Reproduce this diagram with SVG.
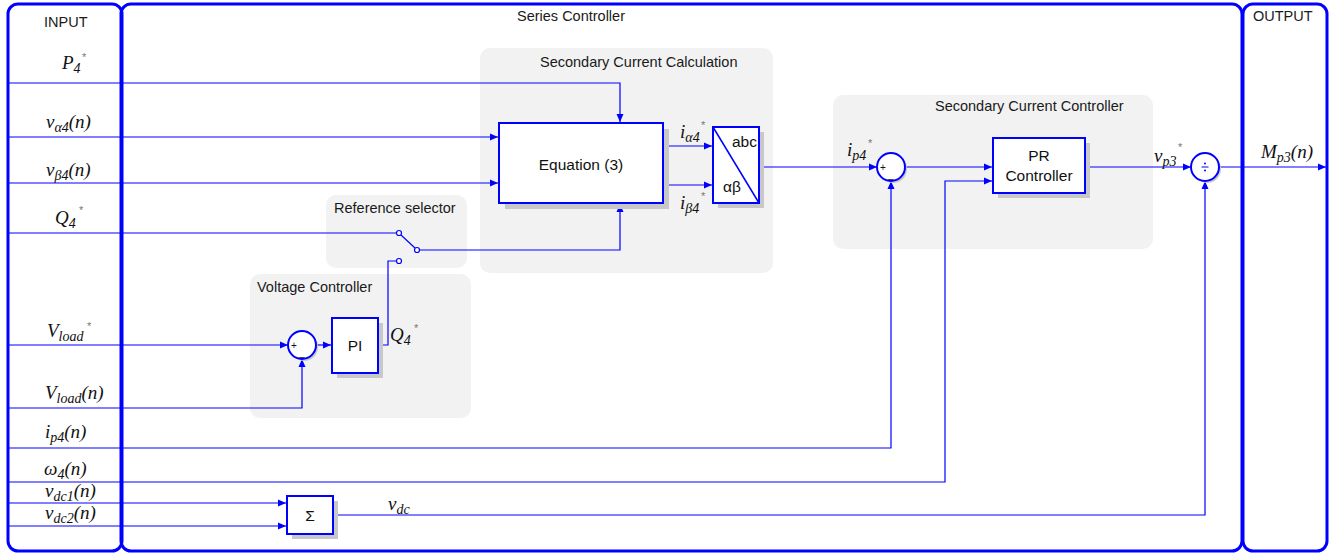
<svg xmlns="http://www.w3.org/2000/svg" width="1337" height="554" viewBox="0 0 1337 554">
<defs>
<marker id="ar" markerUnits="userSpaceOnUse" markerWidth="9" markerHeight="8" refX="8" refY="4" orient="auto"><path d="M0,0.5 L8,4 L0,7.5 z" fill="#0000ff"/></marker>
<style>
.frame{fill:none;stroke:#0000ff;stroke-width:3}
.grp{fill:#f2f2f2;stroke:none}
.blk{fill:#ffffff;stroke:#0000ff;stroke-width:2}
.shd{fill:#c8c8c8;stroke:none}
.ln{fill:none;stroke:#0000ff;stroke-width:1.2}
.arr{fill:none;stroke:#0000ff;stroke-width:1.2;marker-end:url(#ar)}
.lbl{font-family:"Liberation Sans",Arial,sans-serif;font-size:14.5px;fill:#1a1a1a}
.btx{font-family:"Liberation Sans",Arial,sans-serif;font-size:15.5px;fill:#111}
.m{font-family:"Liberation Serif","Times New Roman",serif;font-style:italic;font-size:19px;fill:#111}
.s{font-size:14px}
.st{font-family:"Liberation Sans",Arial,sans-serif;font-size:11px;fill:#777}
.sg{font-family:"Liberation Sans",Arial,sans-serif;font-size:10px;fill:#111}
.pin{fill:#fff;stroke:#0000ff;stroke-width:1.2}
</style>
</defs>

<!-- frames -->
<g id="frames">
<rect class="frame" x="8" y="4" width="114" height="547" rx="10"/>
<rect class="frame" x="121" y="4" width="1121" height="547" rx="10"/>
<rect class="frame" x="1243" y="4" width="84" height="547" rx="10"/>
<text class="lbl" x="44" y="27">INPUT</text>
<text class="lbl" x="517" y="21">Series Controller</text>
<text class="lbl" x="1253" y="21">OUTPUT</text>
</g>

<!-- group backgrounds -->
<g id="group-scc">
<rect class="grp" x="480" y="48" width="293" height="225" rx="10"/>
<text class="lbl" x="540" y="67">Secondary Current Calculation</text>
</g>
<g id="group-refsel">
<rect class="grp" x="326" y="195" width="141" height="73" rx="10"/>
<text class="lbl" x="334" y="213">Reference selector</text>
</g>
<g id="group-vc">
<rect class="grp" x="250" y="274" width="221" height="144" rx="10"/>
<text class="lbl" x="257" y="292">Voltage Controller</text>
</g>
<g id="group-sccon">
<rect class="grp" x="833" y="95" width="320" height="154" rx="10"/>
<text class="lbl" x="935" y="111">Secondary Current Controller</text>
</g>

<!-- input labels -->
<g id="inputs">
<text class="m" x="62" y="69">P<tspan class="s" dy="4">4</tspan></text><text class="st" x="82" y="61">*</text>
<text class="m" x="46" y="128">v<tspan class="s" dy="4">α4</tspan><tspan dy="-4">(n)</tspan></text>
<text class="m" x="46" y="176">v<tspan class="s" dy="4">β4</tspan><tspan dy="-4">(n)</tspan></text>
<text class="m" x="55" y="224">Q<tspan class="s" dy="4">4</tspan></text><text class="st" x="79" y="214">*</text>
<text class="m" x="47" y="337">V<tspan class="s" dy="4">load</tspan></text><text class="st" x="87" y="330">*</text>
<text class="m" x="45" y="399">V<tspan class="s" dy="4">load</tspan><tspan dy="-4">(n)</tspan></text>
<text class="m" x="45" y="438">i<tspan class="s" dy="4">p4</tspan><tspan dy="-4">(n)</tspan></text>
<text class="m" x="44" y="475">ω<tspan class="s" dy="4">4</tspan><tspan dy="-4">(n)</tspan></text>
<text class="m" x="45" y="497">v<tspan class="s" dy="4">dc1</tspan><tspan dy="-4">(n)</tspan></text>
<text class="m" x="45" y="519">v<tspan class="s" dy="4">dc2</tspan><tspan dy="-4">(n)</tspan></text>
</g>

<!-- connectors -->
<g id="connectors">
<polyline class="arr" points="8,83 620,83 620,122"/>
<polyline class="arr" points="8,137 498,137"/>
<polyline class="arr" points="8,183 498,183"/>
<polyline class="ln" points="8,233 396.5,233"/>
<line class="ln" x1="401" y1="235" x2="415" y2="248"/>
<polyline class="arr" points="419.5,250 620,250 620,204"/>
<polyline class="arr" points="8,345 288,345"/>
<polyline class="arr" points="8,408 302,408 302,359"/>
<polyline class="arr" points="316,345 331,345"/>
<polyline class="ln" points="379,345 388,345 388,261 396.5,261"/>
<polyline class="arr" points="664,146 712,146"/>
<polyline class="arr" points="664,185 712,185"/>
<polyline class="arr" points="760,167 877,167"/>
<polyline class="arr" points="8,448 891,448 891,181"/>
<polyline class="arr" points="905,167 992,167"/>
<polyline class="arr" points="8,482 945,482 945,181 992,181"/>
<polyline class="arr" points="1086,167 1191,167"/>
<polyline class="arr" points="8,503 286,503"/>
<polyline class="arr" points="8,526 286,526"/>
<polyline class="arr" points="334,515 1205,515 1205,181"/>
<polyline class="arr" points="1219,167 1326,167"/>
</g>

<!-- nodes -->
<g id="equation3">
<rect class="shd" x="505" y="129" width="164" height="80"/>
<rect class="blk" x="499" y="123" width="164" height="80"/>
<text class="btx" x="581" y="170" text-anchor="middle" font-size="16">Equation (3)</text>
</g>
<g id="abc-transform">
<rect class="shd" x="718" y="132" width="46" height="76"/>
<rect class="blk" x="713" y="127" width="46" height="76"/>
<line x1="713" y1="127" x2="759" y2="203" stroke="#0000ff" stroke-width="1.5"/>
<text class="btx" x="757" y="147" text-anchor="end" font-size="16">abc</text>
<text class="btx" x="723" y="192" font-size="16">αβ</text>
</g>
<text class="m" x="680" y="138">i<tspan class="s" dy="4">α4</tspan></text><text class="st" x="701" y="129">*</text>
<text class="m" x="680" y="209">i<tspan class="s" dy="4">β4</tspan></text><text class="st" x="701" y="200">*</text>

<g id="ref-selector">
<circle class="pin" cx="399" cy="233" r="2.5"/>
<circle class="pin" cx="417" cy="250" r="2.5"/>
<circle class="pin" cx="399" cy="261" r="2.5"/>
</g>

<g id="sum-vc">
<circle cx="304" cy="347" r="14" fill="#c8c8c8"/>
<circle cx="302" cy="345" r="14" fill="#fff" stroke="#0000ff" stroke-width="2"/>
<text class="sg" x="291" y="349">+</text>
<text class="sg" x="299" y="356">_</text>
</g>
<g id="pi">
<rect class="shd" x="337" y="323" width="46" height="55"/>
<rect class="blk" x="332" y="318" width="46" height="55"/>
<text class="btx" x="355" y="351" text-anchor="middle">PI</text>
</g>
<text class="m" x="390" y="341">Q<tspan class="s" dy="4">4</tspan></text><text class="st" x="414" y="332">*</text>

<g id="sum-scc">
<circle cx="893" cy="169" r="14" fill="#c8c8c8"/>
<circle cx="891" cy="167" r="14" fill="#fff" stroke="#0000ff" stroke-width="2"/>
<text class="sg" x="880" y="171">+</text>
<text class="sg" x="888" y="178">_</text>
</g>
<text class="m" x="847" y="156">i<tspan class="s" dy="4">p4</tspan></text><text class="st" x="868" y="147">*</text>

<g id="pr-controller">
<rect class="shd" x="998" y="143" width="92" height="55"/>
<rect class="blk" x="993" y="138" width="92" height="55"/>
<text class="btx" x="1039" y="161" text-anchor="middle" font-size="15">PR</text>
<text class="btx" x="1039" y="181" text-anchor="middle" font-size="15">Controller</text>
</g>
<text class="m" x="1154" y="162">v<tspan class="s" dy="4">p3</tspan></text><text class="st" x="1178" y="151">*</text>

<g id="divide">
<circle cx="1207" cy="169" r="14" fill="#c8c8c8"/>
<circle cx="1205" cy="167" r="14" fill="#fff" stroke="#0000ff" stroke-width="2"/>
<line x1="1201.5" y1="167" x2="1208.5" y2="167" stroke="#0000ff" stroke-width="1"/>
<circle cx="1205" cy="163.5" r="1" fill="#0000ff"/>
<circle cx="1205" cy="170.5" r="1" fill="#0000ff"/>
</g>
<text class="m" x="1261" y="158">M<tspan class="s" dy="4">p3</tspan><tspan dy="-4">(n)</tspan></text>

<g id="sigma">
<rect class="shd" x="292" y="501" width="46" height="38"/>
<rect class="blk" x="287" y="496" width="46" height="38"/>
<text class="btx" x="310" y="521" text-anchor="middle">Σ</text>
</g>
<text class="m" x="388" y="510">v<tspan class="s" dy="4">dc</tspan></text>
</svg>
